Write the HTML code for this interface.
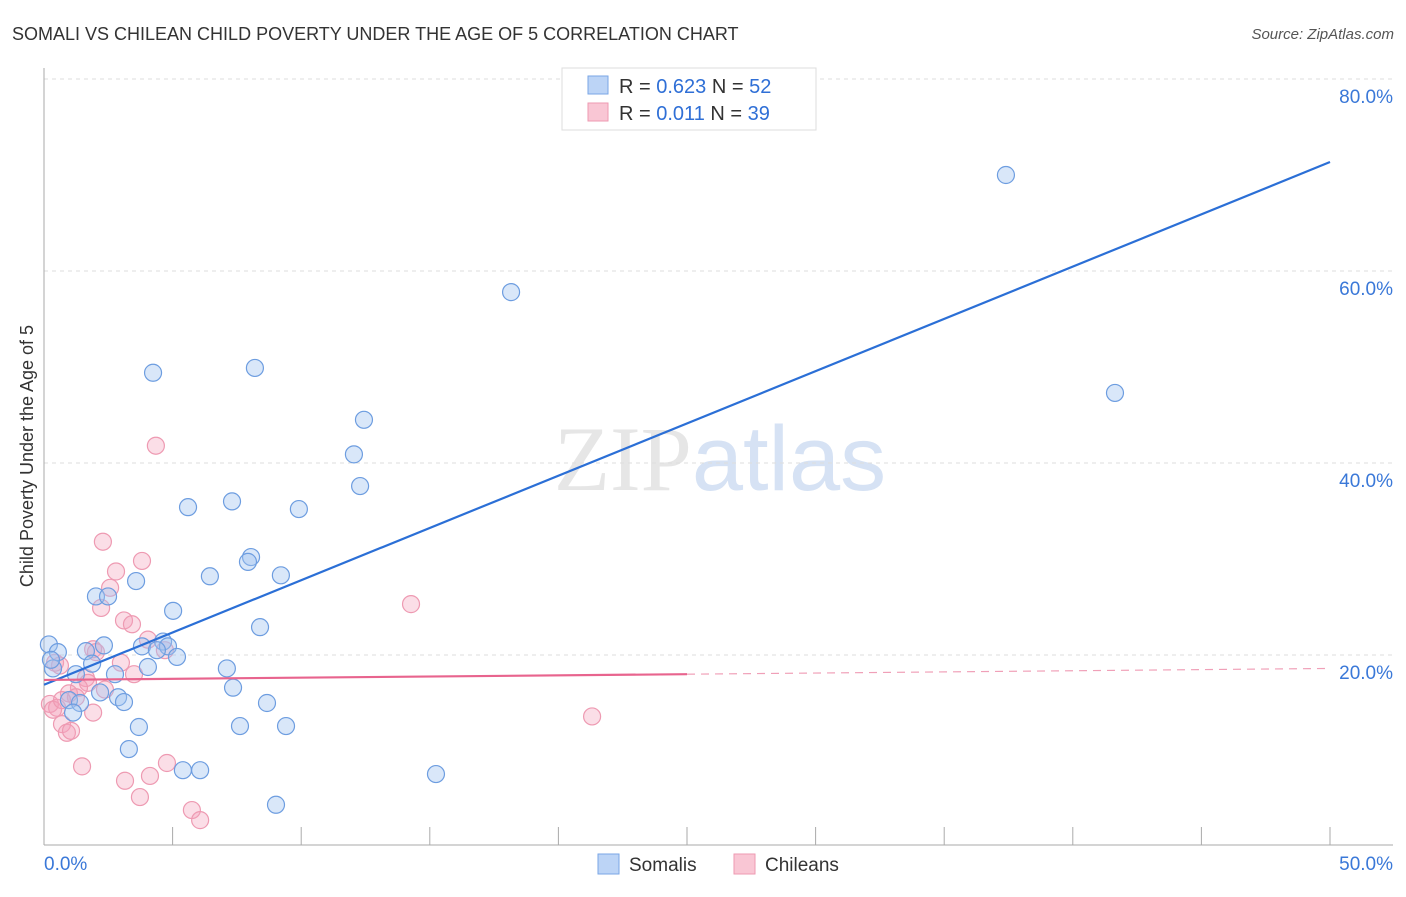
<!DOCTYPE html>
<html><head><meta charset="utf-8"><style>
body{margin:0;background:#fff;font-family:"Liberation Sans",sans-serif;}
svg text{font-family:"Liberation Sans",sans-serif;}
</style></head><body>
<svg id="chart" width="1406" height="892" xmlns="http://www.w3.org/2000/svg">
<text x="12" y="40" font-size="18" fill="#333">SOMALI VS CHILEAN CHILD POVERTY UNDER THE AGE OF 5 CORRELATION CHART</text>
<text x="1394" y="39" font-size="15" fill="#555" font-style="italic" text-anchor="end">Source: ZipAtlas.com</text>
<text x="720" y="490" font-size="92" text-anchor="middle"><tspan fill="#e6e6e6" font-family="Liberation Serif">ZIP</tspan><tspan fill="#d6e2f4">atlas</tspan></text>
<text transform="translate(33,456) rotate(-90)" font-size="18" fill="#333" text-anchor="middle">Child Poverty Under the Age of 5</text>
<g id="grid"></g><g id="axes"></g><g id="pts"></g><g id="lines"></g>
<g>
<rect x="562" y="68" width="254" height="62" fill="#fff" stroke="#ddd"/>
<rect x="588" y="76" width="20" height="18" fill="#bcd4f6" stroke="#7aa6e6"/>
<text x="619" y="93" font-size="20" fill="#333">R = <tspan fill="#2f6fd6">0.623</tspan>   N = <tspan fill="#2f6fd6">52</tspan></text>
<rect x="588" y="103" width="20" height="18" fill="#f9c6d4" stroke="#ee9ab2"/>
<text x="619" y="120" font-size="20" fill="#333">R =  <tspan fill="#2f6fd6">0.011</tspan>   N = <tspan fill="#2f6fd6">39</tspan></text>
</g>
<g>
<rect x="598" y="854" width="21" height="20" fill="#bcd4f6" stroke="#7aa6e6"/>
<text x="629" y="871" font-size="19" fill="#333">Somalis</text>
<rect x="734" y="854" width="21" height="20" fill="#f9c6d4" stroke="#ee9ab2"/>
<text x="765" y="871" font-size="19" fill="#333">Chileans</text>
</g>
</svg>
<script>
const yTicks=[20,40,60,80];
const yTickLabels=["20.0%","40.0%","60.0%","80.0%"];
const xTicks=[0,5,10,15,20,25,30,35,40,45,50];
const somaliX=[37.4,18.16,41.64,4.24,8.2,12.44,12.05,12.29,5.6,7.31,9.91,8.05,7.93,6.45,9.21,3.58,2.02,2.49,5.02,8.4,0.19,0.54,1.63,2.33,3.81,4.63,4.82,4.39,5.17,1.87,4.04,0.35,1.24,2.76,7.11,7.35,2.18,0.97,1.4,2.88,3.11,8.67,1.13,3.69,7.62,9.41,3.3,5.4,6.07,15.24,9.02,0.27];
const somaliY=[70.0,57.8,47.3,49.4,49.9,44.5,40.9,37.6,35.4,36.0,35.2,30.2,29.7,28.2,28.3,27.7,26.1,26.1,24.6,22.9,21.1,20.3,20.4,21.0,20.9,21.4,20.9,20.5,19.8,19.1,18.75,18.6,18.0,18.0,18.6,16.6,16.1,15.3,15.0,15.6,15.1,15.0,14.0,12.5,12.6,12.6,10.2,8.0,8.0,7.6,4.4,19.5];
const chileanX=[4.35,2.29,3.81,2.8,2.57,14.27,2.22,3.11,3.42,4.04,1.91,2.02,4.7,0.43,2.99,3.5,1.63,1.71,1.36,0.97,2.37,1.24,0.23,0.51,0.35,1.91,21.31,0.7,0.89,1.05,1.48,4.78,4.12,3.15,3.73,5.75,6.07,0.7,0.62];
const chileanY=[41.8,31.8,29.8,28.7,27.0,25.3,24.9,23.6,23.2,21.6,20.6,20.3,20.5,19.2,19.2,18.0,17.6,17.1,16.6,16.0,16.4,15.6,14.9,14.5,14.3,14.0,13.6,12.8,11.9,12.1,8.4,8.75,7.4,6.9,5.2,3.85,2.8,15.3,18.9];
const somaliTrend=[16.9,71.35];
const chileanTrend=[17.4,18.6];
const NS="http://www.w3.org/2000/svg";
const X=v=>44+v/50*1286, Y=v=>847-v*9.6;
function mk(t,a,p){const e=document.createElementNS(NS,t);for(const k in a)e.setAttribute(k,a[k]);p.appendChild(e);return e;}
const grid=document.getElementById('grid'),axes=document.getElementById('axes'),pts=document.getElementById('pts'),lines=document.getElementById('lines');
yTicks.forEach((t,i)=>{
 const l=mk('line',{x1:44,x2:1393,y1:Y(t),y2:Y(t),stroke:'#ddd','stroke-dasharray':'4,4'},grid);
 
 
 const tx=mk('text',{x:1393,y:Y(t)+24,'font-size':19,fill:'#3a78d8','text-anchor':'end'},axes);
 tx.textContent=yTickLabels[i];
 
 
});
let a=mk('line',{x1:44,x2:44,y1:68,y2:845,stroke:'#aaa'},axes);


a=mk('line',{x1:44,x2:1393,y1:845,y2:845,stroke:'#aaa'},axes);


xTicks.forEach(t=>{const l=mk('line',{x1:X(t),x2:X(t),y1:827,y2:845,stroke:'#aaa'},axes);
 
 });
let t0=mk('text',{x:44,y:870,'font-size':19,fill:'#3a78d8'},axes);t0.textContent='0.0%';


t0=mk('text',{x:1393,y:870,'font-size':19,fill:'#3a78d8','text-anchor':'end'},axes);t0.textContent='50.0%';


chileanX.forEach((v,i)=>{const c=mk('circle',{cx:X(v),cy:Y(chileanY[i]),r:8.5,fill:'rgba(244,160,185,0.35)',stroke:'#ee9ab2','stroke-width':1.2},pts);
 
 });
somaliX.forEach((v,i)=>{const c=mk('circle',{cx:X(v),cy:Y(somaliY[i]),r:8.5,fill:'rgba(160,195,240,0.4)',stroke:'#6d9de0','stroke-width':1.2},pts);
 
 });
let ln=mk('line',{x1:X(0),y1:Y(somaliTrend[0]),x2:X(50),y2:Y(somaliTrend[1]),stroke:'#2b6fd6','stroke-width':2.2},lines);


const cm=chileanTrend[0]+(chileanTrend[1]-chileanTrend[0])*0.5;
ln=mk('line',{x1:X(0),y1:Y(chileanTrend[0]),x2:X(25),y2:Y(cm),stroke:'#e8648e','stroke-width':2.2},lines);


ln=mk('line',{x1:X(25),y1:Y(cm),x2:X(50),y2:Y(chileanTrend[1]),stroke:'#f0a0b8','stroke-width':1.2,'stroke-dasharray':'8,6'},lines);


</script>
</body></html>
